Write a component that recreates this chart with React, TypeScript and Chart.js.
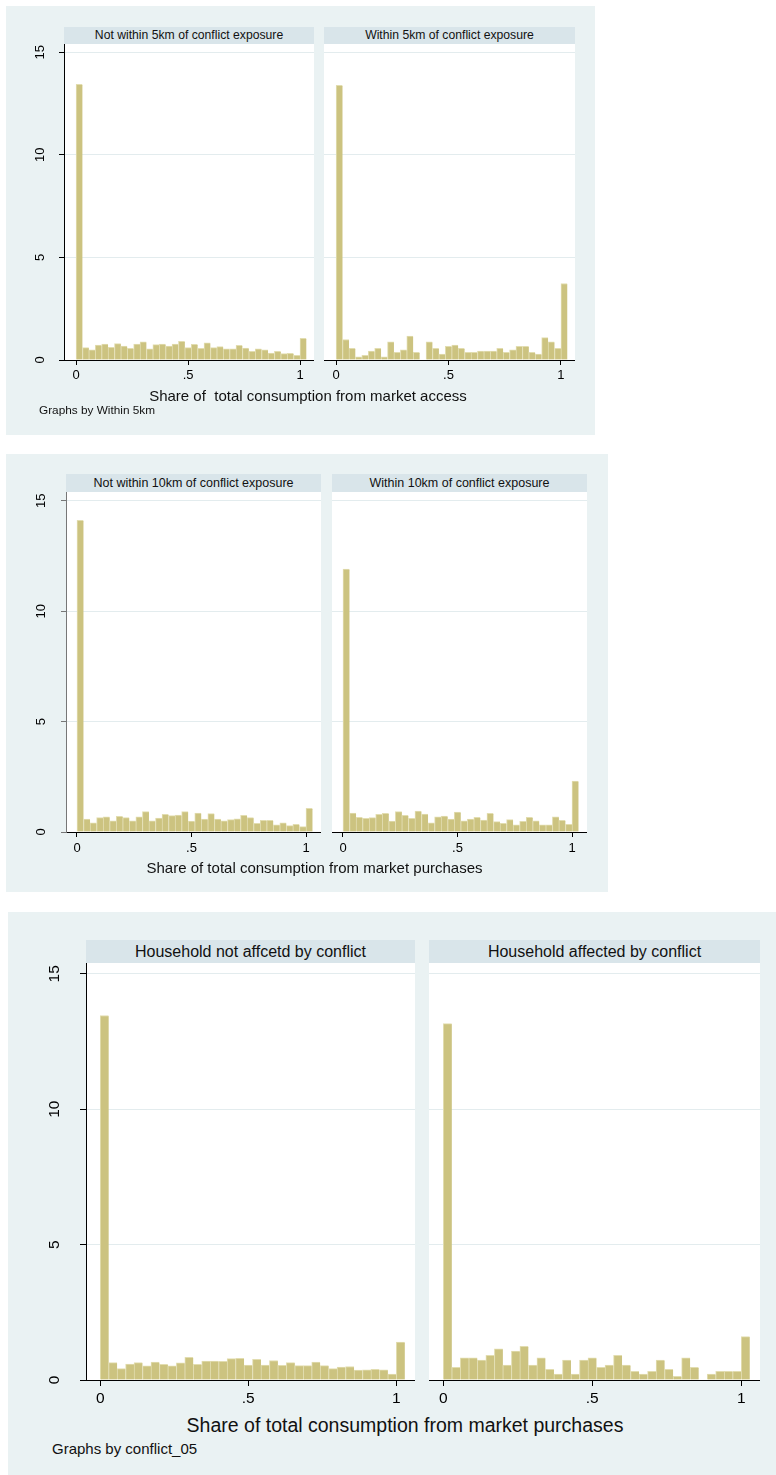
import React, { useEffect, useRef } from 'react';
import { Chart, registerables } from 'chart.js';

Chart.register(...registerables);

// ---------- data ----------
const BIN_WIDTH = 1 / 35; // histogram bin width (36 bins starting at 0)
const X_TICKS = [0, 0.5, 1];
const X_TICK_LABELS = ['0', '.5', '1'];
const Y_TICKS = [0, 5, 10, 15];
const Y_TICK_LABELS = ['0', '5', '10', '15'];
const Y_MAX = 15.4;

const notWithin5km = [13.44, 0.6, 0.49, 0.73, 0.78, 0.62, 0.8, 0.68, 0.57, 0.78, 0.89, 0.54, 0.75, 0.78, 0.68, 0.78, 0.91, 0.6, 0.76, 0.57, 0.84, 0.6, 0.65, 0.54, 0.55, 0.71, 0.58, 0.42, 0.54, 0.5, 0.34, 0.42, 0.31, 0.32, 0.23, 1.05];
const within5km = [13.39, 1.0, 0.57, 0.15, 0.23, 0.44, 0.57, 0.15, 0.88, 0.37, 0.5, 1.17, 0.37, 0, 0.88, 0.57, 0.29, 0.67, 0.73, 0.57, 0.37, 0.37, 0.44, 0.44, 0.44, 0.57, 0.37, 0.5, 0.67, 0.67, 0.37, 0.29, 1.09, 0.88, 0.57, 3.73];
const notWithin10km = [14.12, 0.59, 0.42, 0.65, 0.69, 0.51, 0.71, 0.65, 0.51, 0.69, 0.92, 0.51, 0.63, 0.8, 0.74, 0.77, 0.92, 0.5, 0.86, 0.59, 0.83, 0.59, 0.51, 0.56, 0.6, 0.75, 0.65, 0.39, 0.53, 0.53, 0.33, 0.41, 0.29, 0.35, 0.24, 1.07];
const within10km = [11.91, 0.86, 0.66, 0.62, 0.65, 0.8, 0.84, 0.5, 0.92, 0.75, 0.62, 0.95, 0.81, 0.41, 0.69, 0.72, 0.59, 0.9, 0.51, 0.59, 0.66, 0.54, 0.84, 0.47, 0.39, 0.56, 0.32, 0.48, 0.66, 0.51, 0.33, 0.33, 0.69, 0.53, 0.35, 2.31];
const notAffected = [13.46, 0.64, 0.42, 0.59, 0.64, 0.52, 0.66, 0.58, 0.52, 0.63, 0.84, 0.58, 0.7, 0.7, 0.69, 0.79, 0.8, 0.55, 0.76, 0.55, 0.72, 0.54, 0.64, 0.53, 0.53, 0.66, 0.53, 0.42, 0.48, 0.5, 0.37, 0.38, 0.39, 0.38, 0.22, 1.4];
const affected = [13.16, 0.47, 0.82, 0.82, 0.74, 0.91, 1.15, 0.55, 1.07, 1.24, 0.55, 0.82, 0.39, 0.22, 0.74, 0.22, 0.74, 0.82, 0.47, 0.55, 0.91, 0.55, 0.32, 0.22, 0.32, 0.74, 0.39, 0.14, 0.82, 0.47, 0, 0.22, 0.32, 0.32, 0.32, 1.6];

const HEADERS_1 = ['Not within 5km of conflict exposure', 'Within 5km of conflict exposure'];
const HEADERS_2 = ['Not within 10km of conflict exposure', 'Within 10km of conflict exposure'];
const HEADERS_3 = ['Household not affcetd by conflict', 'Household affected by conflict'];
const TITLE_1 = 'Share of  total consumption from market access';
const TITLE_2 = 'Share of total consumption from market purchases';
const TITLE_3 = 'Share of total consumption from market purchases';
const NOTE_1 = 'Graphs by Within 5km';
const NOTE_3 = 'Graphs by conflict_05';

// ---------- styles ----------
const FONT = '"Liberation Sans", Arial, Helvetica, sans-serif';
const BG = '#eaf2f3';
const HEADER_BG = '#d9e5ea';
const GRID = '#e3ecee';
const BAR_FILL = 'rgb(204,195,128)';
const BAR_EDGE = 'rgb(226,221,176)';

type Sub = { header: string; values: number[]; l: number; r: number };
type Panel = {
  bg: { l: number; t: number; w: number; h: number };
  plotT: number; plotB: number; headerTop: number;
  xMin: number; xMax: number;
  subs: Sub[];
  tickFont: number; tickLen: number; xLabelCY: number; yLabelDx: number;
  headerFont: number;
  title: string; titleFont: number; titleCX: number; titleCY: number;
  note?: string; noteFont?: number; noteX?: number; noteCY?: number;
  yAxisColor: string;
};

const PANELS: Panel[] = [
  {
    bg: { l: 6, t: 6, w: 589, h: 429 }, plotT: 44, plotB: 360, headerTop: 27,
    xMin: -0.054, xMax: 1.0625,
    subs: [
      { header: HEADERS_1[0], values: notWithin5km, l: 64, r: 314 },
      { header: HEADERS_1[1], values: within5km, l: 324, r: 575 },
    ],
    tickFont: 13, tickLen: 5, xLabelCY: 375, yLabelDx: 24, headerFont: 12.2,
    title: TITLE_1, titleFont: 15, titleCX: 308, titleCY: 395,
    note: NOTE_1, noteFont: 11.8, noteX: 39, noteCY: 411, yAxisColor: '#000',
  },
  {
    bg: { l: 6, t: 454, w: 602, h: 438 }, plotT: 492, plotB: 832, headerTop: 474,
    xMin: -0.048, xMax: 1.0655,
    subs: [
      { header: HEADERS_2[0], values: notWithin10km, l: 66, r: 321 },
      { header: HEADERS_2[1], values: within10km, l: 332, r: 587 },
    ],
    tickFont: 13, tickLen: 5, xLabelCY: 848, yLabelDx: 25, headerFont: 12.5,
    title: TITLE_2, titleFont: 15, titleCX: 314.5, titleCY: 867, yAxisColor: '#777',
  },
  {
    bg: { l: 8, t: 912, w: 768, h: 563 }, plotT: 963, plotB: 1380, headerTop: 940,
    xMin: -0.048, xMax: 1.063,
    subs: [
      { header: HEADERS_3[0], values: notAffected, l: 86, r: 415 },
      { header: HEADERS_3[1], values: affected, l: 429, r: 760 },
    ],
    tickFont: 15.5, tickLen: 6, xLabelCY: 1399, yLabelDx: 31, headerFont: 16,
    title: TITLE_3, titleFont: 19.5, titleCX: 405, titleCY: 1426,
    note: NOTE_3, noteFont: 15, noteX: 52, noteCY: 1448, yAxisColor: '#000',
  },
];

type HistProps = {
  values: number[]; left: number; top: number; width: number; height: number;
  padL: number; padB: number; xMin: number; xMax: number; showY: boolean;
  tickFont: number; tickLen: number; xLabelPad: number; yLabelDx: number; yAxisColor: string;
};

function Hist(p: HistProps) {
  const ref = useRef<HTMLCanvasElement>(null);
  useEffect(() => {
    const canvas = ref.current!;
    const plotBg = {
      id: 'plotBg',
      beforeDraw(chart: any) {
        const { ctx, chartArea: a } = chart;
        ctx.save();
        ctx.fillStyle = '#ffffff';
        ctx.fillRect(a.left, a.top, a.right - a.left, a.bottom - a.top);
        ctx.restore();
      },
    };
    const yLabels = {
      id: 'yLabels',
      afterDraw(chart: any) {
        if (!p.showY) return;
        const { ctx, chartArea: a } = chart;
        const ys = chart.scales.y;
        ctx.save();
        ctx.fillStyle = '#000';
        ctx.font = `${p.tickFont}px ${FONT}`;
        ctx.textAlign = 'center';
        ctx.textBaseline = 'middle';
        Y_TICKS.forEach((v, i) => {
          const y = ys.getPixelForValue(v);
          ctx.save();
          ctx.translate(a.left - p.yLabelDx, y);
          ctx.rotate(-Math.PI / 2);
          ctx.fillText(Y_TICK_LABELS[i], 0, 0);
          ctx.restore();
        });
        ctx.restore();
      },
    };
    const chart = new Chart(canvas, {
      type: 'bar',
      data: {
        datasets: [
          {
            data: p.values.map((v, i) => ({ x: (i + 0.5) * BIN_WIDTH, y: v })),
            backgroundColor: BAR_FILL,
            borderColor: BAR_EDGE,
            borderWidth: { left: 1, top: 1, right: 0, bottom: 0 },
            borderSkipped: false,
            categoryPercentage: 1,
            barPercentage: 1,
          } as any,
        ],
      },
      options: {
        responsive: false,
        animation: false,
        devicePixelRatio: 1,
        events: [],
        layout: { padding: 0, autoPadding: false } as any,
        plugins: { legend: { display: false }, tooltip: { enabled: false }, title: { display: false } },
        scales: {
          x: {
            type: 'linear',
            position: 'bottom',
            min: p.xMin,
            max: p.xMax,
            offset: false,
            afterBuildTicks: (s: any) => { s.ticks = X_TICKS.map((v) => ({ value: v })); },
            afterFit: (s: any) => { s.height = p.padB; },
            ticks: {
              callback: (_v: any, i: number) => X_TICK_LABELS[i],
              font: { family: FONT, size: p.tickFont },
              color: '#000',
              padding: p.xLabelPad,
              maxRotation: 0,
              minRotation: 0,
              autoSkip: false,
            },
            grid: { display: true, offset: false, drawOnChartArea: false, drawTicks: true, tickLength: p.tickLen, tickColor: '#000', tickWidth: 1 },
            border: { display: true, color: '#000', width: 1 },
          },
          y: {
            type: 'linear',
            position: 'left',
            min: 0,
            max: Y_MAX,
            afterBuildTicks: (s: any) => { s.ticks = Y_TICKS.map((v) => ({ value: v })); },
            afterFit: (s: any) => { s.width = p.padL; },
            ticks: { display: false },
            grid: {
              color: (c: any) => (c.tick && c.tick.value === 0 ? 'rgba(0,0,0,0)' : GRID),
              lineWidth: 1,
              drawTicks: p.showY,
              tickLength: p.tickLen,
              tickColor: p.yAxisColor,
              tickWidth: 1,
            },
            border: { display: p.showY, color: p.yAxisColor, width: 1 },
          },
        },
      } as any,
      plugins: [plotBg, yLabels],
    });
    return () => chart.destroy();
  }, []);
  return (
    <canvas
      ref={ref}
      width={p.width}
      height={p.height}
      style={{ position: 'absolute', left: p.left, top: p.top, width: p.width, height: p.height }}
    />
  );
}

function PanelView({ P }: { P: Panel }) {
  const padB = 34;
  return (
    <>
      <div style={{ position: 'absolute', left: P.bg.l, top: P.bg.t, width: P.bg.w, height: P.bg.h, background: BG }} />
      {P.subs.map((s, i) => {
        const padL = i === 0 ? 48 : 0;
        const xLabelPad = P.xLabelCY - P.plotB - P.tickLen - 0.6 * P.tickFont;
        return (
          <React.Fragment key={i}>
            <div
              style={{
                position: 'absolute', left: s.l, top: P.headerTop, width: s.r - s.l, height: P.plotT - P.headerTop,
                background: HEADER_BG, display: 'flex', alignItems: 'center', justifyContent: 'center',
                fontFamily: FONT, fontSize: P.headerFont, color: '#111', whiteSpace: 'pre', lineHeight: 1,
              }}
            >
              {s.header}
            </div>
            <Hist
              values={s.values}
              left={s.l - padL}
              top={P.plotT}
              width={s.r - s.l + padL}
              height={P.plotB - P.plotT + padB}
              padL={padL}
              padB={padB}
              xMin={P.xMin}
              xMax={P.xMax}
              showY={i === 0}
              tickFont={P.tickFont}
              tickLen={P.tickLen}
              xLabelPad={xLabelPad}
              yLabelDx={P.yLabelDx}
              yAxisColor={P.yAxisColor}
            />
          </React.Fragment>
        );
      })}
      <div
        style={{
          position: 'absolute', left: P.titleCX - 350, width: 700, top: P.titleCY - P.titleFont / 2,
          height: P.titleFont, lineHeight: `${P.titleFont}px`, textAlign: 'center',
          fontFamily: FONT, fontSize: P.titleFont, color: '#111', whiteSpace: 'pre',
        }}
      >
        {P.title}
      </div>
      {P.note ? (
        <div
          style={{
            position: 'absolute', left: P.noteX, top: P.noteCY! - P.noteFont! / 2,
            height: P.noteFont, lineHeight: `${P.noteFont}px`,
            fontFamily: FONT, fontSize: P.noteFont, color: '#111', whiteSpace: 'pre',
          }}
        >
          {P.note}
        </div>
      ) : null}
    </>
  );
}

export default function App() {
  return (
    <div style={{ position: 'absolute', left: 0, top: 0, width: 776, height: 1475, background: '#fff' }}>
      {PANELS.map((P, i) => (
        <PanelView key={i} P={P} />
      ))}
    </div>
  );
}
